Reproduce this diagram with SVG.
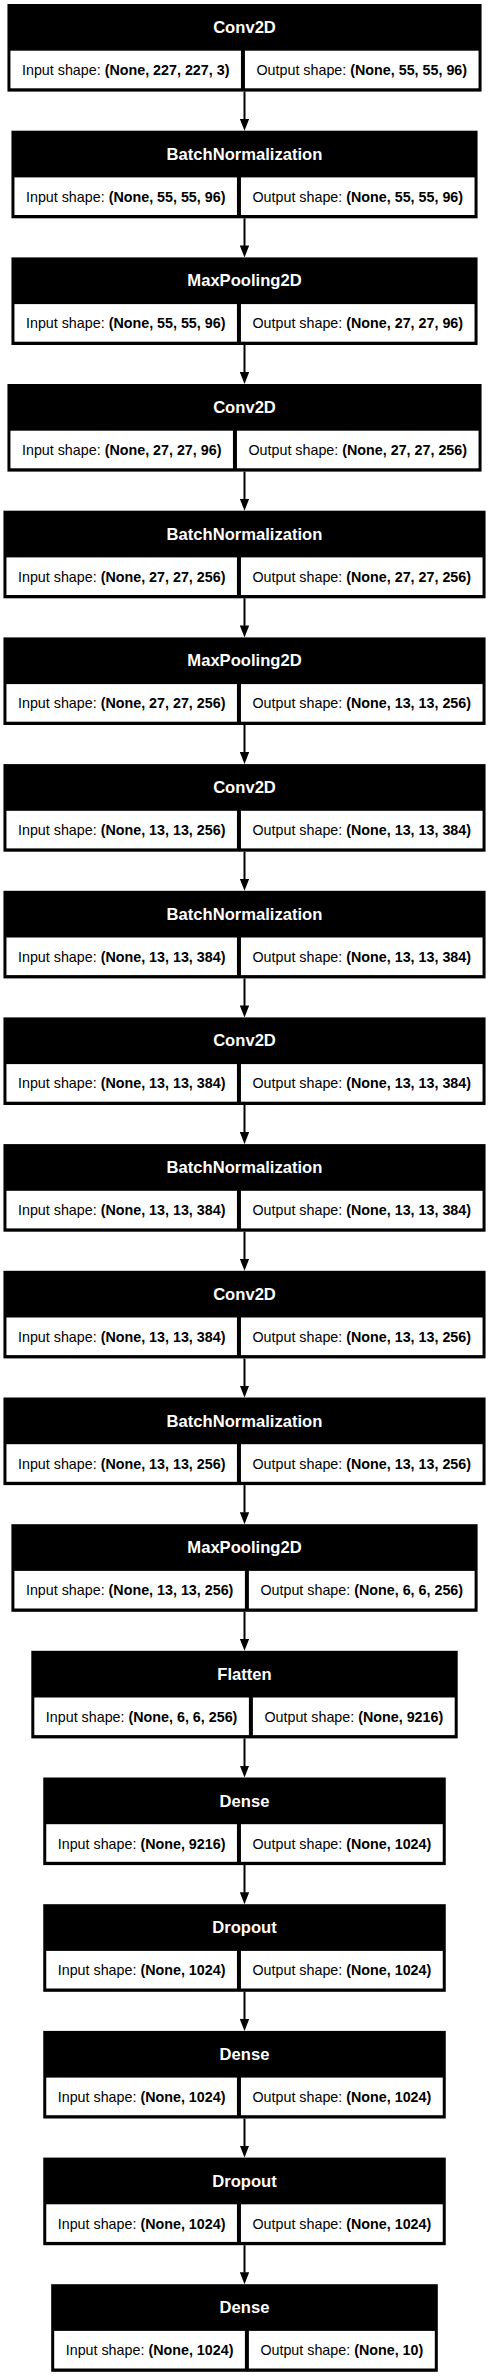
<svg xmlns="http://www.w3.org/2000/svg" width="489" height="2377" viewBox="0 0 489 2377">
<style>
.bg{fill:#fff}
.box{fill:#000}
.cell{fill:#fff}
.hd{font-family:"Liberation Sans",Arial,sans-serif;font-size:16.6px;font-weight:bold;fill:#fff;text-anchor:middle}
.tx{font-family:"Liberation Sans",Arial,sans-serif;font-size:14.3px;fill:#000;text-anchor:middle}
.b{font-weight:bold}
.edge{stroke:#000;stroke-width:2;fill:none}
</style>
<defs>
<marker id="ah" markerUnits="userSpaceOnUse" viewBox="0 0 12 9.4" markerWidth="12" markerHeight="9.4" refX="0.5" refY="4.7" orient="auto">
<path d="M0,0 L12,4.7 L0,9.4 z" fill="#000"/>
</marker>
</defs>
<rect class="bg" x="0" y="0" width="489" height="2377"/>
<g id="connectors">
<line class="edge" marker-end="url(#ah)" x1="244.5" y1="91.6" x2="244.5" y2="119.2"/>
<line class="edge" marker-end="url(#ah)" x1="244.5" y1="218.3" x2="244.5" y2="245.9"/>
<line class="edge" marker-end="url(#ah)" x1="244.5" y1="345.0" x2="244.5" y2="372.5"/>
<line class="edge" marker-end="url(#ah)" x1="244.5" y1="471.6" x2="244.5" y2="499.2"/>
<line class="edge" marker-end="url(#ah)" x1="244.5" y1="598.3" x2="244.5" y2="625.9"/>
<line class="edge" marker-end="url(#ah)" x1="244.5" y1="725.0" x2="244.5" y2="752.6"/>
<line class="edge" marker-end="url(#ah)" x1="244.5" y1="851.7" x2="244.5" y2="879.3"/>
<line class="edge" marker-end="url(#ah)" x1="244.5" y1="978.4" x2="244.5" y2="1005.9"/>
<line class="edge" marker-end="url(#ah)" x1="244.5" y1="1105.0" x2="244.5" y2="1132.6"/>
<line class="edge" marker-end="url(#ah)" x1="244.5" y1="1231.7" x2="244.5" y2="1259.3"/>
<line class="edge" marker-end="url(#ah)" x1="244.5" y1="1358.4" x2="244.5" y2="1386.0"/>
<line class="edge" marker-end="url(#ah)" x1="244.5" y1="1485.1" x2="244.5" y2="1512.7"/>
<line class="edge" marker-end="url(#ah)" x1="244.5" y1="1611.8" x2="244.5" y2="1639.3"/>
<line class="edge" marker-end="url(#ah)" x1="244.5" y1="1738.4" x2="244.5" y2="1766.0"/>
<line class="edge" marker-end="url(#ah)" x1="244.5" y1="1865.1" x2="244.5" y2="1892.7"/>
<line class="edge" marker-end="url(#ah)" x1="244.5" y1="1991.8" x2="244.5" y2="2019.4"/>
<line class="edge" marker-end="url(#ah)" x1="244.5" y1="2118.5" x2="244.5" y2="2146.1"/>
<line class="edge" marker-end="url(#ah)" x1="244.5" y1="2245.2" x2="244.5" y2="2272.7"/>
</g>
<g id="n1" transform="translate(0,4)">
<rect class="box" x="7.45" y="0" width="474.1" height="87.6"/>
<rect class="cell" x="10.45" y="46.7" width="230.5" height="37.6"/>
<rect class="cell" x="244.95" y="46.7" width="233.6" height="37.6"/>
<text class="hd" x="244.5" y="29">Conv2D</text>
<text class="tx" x="125.7" y="71">Input shape: <tspan class="b">(None, 227, 227, 3)</tspan></text>
<text class="tx" x="361.75" y="71">Output shape: <tspan class="b">(None, 55, 55, 96)</tspan></text>
</g>
<g id="n2" transform="translate(0,130.7)">
<rect class="box" x="11.45" y="0" width="466.1" height="87.6"/>
<rect class="cell" x="14.45" y="46.7" width="222.5" height="37.6"/>
<rect class="cell" x="240.95" y="46.7" width="233.6" height="37.6"/>
<text class="hd" x="244.5" y="29">BatchNormalization</text>
<text class="tx" x="125.7" y="71">Input shape: <tspan class="b">(None, 55, 55, 96)</tspan></text>
<text class="tx" x="357.75" y="71">Output shape: <tspan class="b">(None, 55, 55, 96)</tspan></text>
</g>
<g id="n3" transform="translate(0,257.4)">
<rect class="box" x="11.45" y="0" width="466.1" height="87.6"/>
<rect class="cell" x="14.45" y="46.7" width="222.5" height="37.6"/>
<rect class="cell" x="240.95" y="46.7" width="233.6" height="37.6"/>
<text class="hd" x="244.5" y="29">MaxPooling2D</text>
<text class="tx" x="125.7" y="71">Input shape: <tspan class="b">(None, 55, 55, 96)</tspan></text>
<text class="tx" x="357.75" y="71">Output shape: <tspan class="b">(None, 27, 27, 96)</tspan></text>
</g>
<g id="n4" transform="translate(0,384.0)">
<rect class="box" x="7.45" y="0" width="474.1" height="87.6"/>
<rect class="cell" x="10.45" y="46.7" width="222.5" height="37.6"/>
<rect class="cell" x="236.95" y="46.7" width="241.6" height="37.6"/>
<text class="hd" x="244.5" y="29">Conv2D</text>
<text class="tx" x="121.7" y="71">Input shape: <tspan class="b">(None, 27, 27, 96)</tspan></text>
<text class="tx" x="357.75" y="71">Output shape: <tspan class="b">(None, 27, 27, 256)</tspan></text>
</g>
<g id="n5" transform="translate(0,510.7)">
<rect class="box" x="3.45" y="0" width="482.1" height="87.6"/>
<rect class="cell" x="6.45" y="46.7" width="230.5" height="37.6"/>
<rect class="cell" x="240.95" y="46.7" width="241.6" height="37.6"/>
<text class="hd" x="244.5" y="29">BatchNormalization</text>
<text class="tx" x="121.7" y="71">Input shape: <tspan class="b">(None, 27, 27, 256)</tspan></text>
<text class="tx" x="361.75" y="71">Output shape: <tspan class="b">(None, 27, 27, 256)</tspan></text>
</g>
<g id="n6" transform="translate(0,637.4)">
<rect class="box" x="3.45" y="0" width="482.1" height="87.6"/>
<rect class="cell" x="6.45" y="46.7" width="230.5" height="37.6"/>
<rect class="cell" x="240.95" y="46.7" width="241.6" height="37.6"/>
<text class="hd" x="244.5" y="29">MaxPooling2D</text>
<text class="tx" x="121.7" y="71">Input shape: <tspan class="b">(None, 27, 27, 256)</tspan></text>
<text class="tx" x="361.75" y="71">Output shape: <tspan class="b">(None, 13, 13, 256)</tspan></text>
</g>
<g id="n7" transform="translate(0,764.1)">
<rect class="box" x="3.45" y="0" width="482.1" height="87.6"/>
<rect class="cell" x="6.45" y="46.7" width="230.5" height="37.6"/>
<rect class="cell" x="240.95" y="46.7" width="241.6" height="37.6"/>
<text class="hd" x="244.5" y="29">Conv2D</text>
<text class="tx" x="121.7" y="71">Input shape: <tspan class="b">(None, 13, 13, 256)</tspan></text>
<text class="tx" x="361.75" y="71">Output shape: <tspan class="b">(None, 13, 13, 384)</tspan></text>
</g>
<g id="n8" transform="translate(0,890.8)">
<rect class="box" x="3.45" y="0" width="482.1" height="87.6"/>
<rect class="cell" x="6.45" y="46.7" width="230.5" height="37.6"/>
<rect class="cell" x="240.95" y="46.7" width="241.6" height="37.6"/>
<text class="hd" x="244.5" y="29">BatchNormalization</text>
<text class="tx" x="121.7" y="71">Input shape: <tspan class="b">(None, 13, 13, 384)</tspan></text>
<text class="tx" x="361.75" y="71">Output shape: <tspan class="b">(None, 13, 13, 384)</tspan></text>
</g>
<g id="n9" transform="translate(0,1017.4)">
<rect class="box" x="3.45" y="0" width="482.1" height="87.6"/>
<rect class="cell" x="6.45" y="46.7" width="230.5" height="37.6"/>
<rect class="cell" x="240.95" y="46.7" width="241.6" height="37.6"/>
<text class="hd" x="244.5" y="29">Conv2D</text>
<text class="tx" x="121.7" y="71">Input shape: <tspan class="b">(None, 13, 13, 384)</tspan></text>
<text class="tx" x="361.75" y="71">Output shape: <tspan class="b">(None, 13, 13, 384)</tspan></text>
</g>
<g id="n10" transform="translate(0,1144.1)">
<rect class="box" x="3.45" y="0" width="482.1" height="87.6"/>
<rect class="cell" x="6.45" y="46.7" width="230.5" height="37.6"/>
<rect class="cell" x="240.95" y="46.7" width="241.6" height="37.6"/>
<text class="hd" x="244.5" y="29">BatchNormalization</text>
<text class="tx" x="121.7" y="71">Input shape: <tspan class="b">(None, 13, 13, 384)</tspan></text>
<text class="tx" x="361.75" y="71">Output shape: <tspan class="b">(None, 13, 13, 384)</tspan></text>
</g>
<g id="n11" transform="translate(0,1270.8)">
<rect class="box" x="3.45" y="0" width="482.1" height="87.6"/>
<rect class="cell" x="6.45" y="46.7" width="230.5" height="37.6"/>
<rect class="cell" x="240.95" y="46.7" width="241.6" height="37.6"/>
<text class="hd" x="244.5" y="29">Conv2D</text>
<text class="tx" x="121.7" y="71">Input shape: <tspan class="b">(None, 13, 13, 384)</tspan></text>
<text class="tx" x="361.75" y="71">Output shape: <tspan class="b">(None, 13, 13, 256)</tspan></text>
</g>
<g id="n12" transform="translate(0,1397.5)">
<rect class="box" x="3.45" y="0" width="482.1" height="87.6"/>
<rect class="cell" x="6.45" y="46.7" width="230.5" height="37.6"/>
<rect class="cell" x="240.95" y="46.7" width="241.6" height="37.6"/>
<text class="hd" x="244.5" y="29">BatchNormalization</text>
<text class="tx" x="121.7" y="71">Input shape: <tspan class="b">(None, 13, 13, 256)</tspan></text>
<text class="tx" x="361.75" y="71">Output shape: <tspan class="b">(None, 13, 13, 256)</tspan></text>
</g>
<g id="n13" transform="translate(0,1524.2)">
<rect class="box" x="11.4" y="0" width="466.2" height="87.6"/>
<rect class="cell" x="14.4" y="46.7" width="230.5" height="37.6"/>
<rect class="cell" x="248.9" y="46.7" width="225.7" height="37.6"/>
<text class="hd" x="244.5" y="29">MaxPooling2D</text>
<text class="tx" x="129.65" y="71">Input shape: <tspan class="b">(None, 13, 13, 256)</tspan></text>
<text class="tx" x="361.75" y="71">Output shape: <tspan class="b">(None, 6, 6, 256)</tspan></text>
</g>
<g id="n14" transform="translate(0,1650.8)">
<rect class="box" x="31.3" y="0" width="426.4" height="87.6"/>
<rect class="cell" x="34.3" y="46.7" width="214.6" height="37.6"/>
<rect class="cell" x="252.9" y="46.7" width="201.8" height="37.6"/>
<text class="hd" x="244.5" y="29">Flatten</text>
<text class="tx" x="141.6" y="71">Input shape: <tspan class="b">(None, 6, 6, 256)</tspan></text>
<text class="tx" x="353.8" y="71">Output shape: <tspan class="b">(None, 9216)</tspan></text>
</g>
<g id="n15" transform="translate(0,1777.5)">
<rect class="box" x="43.25" y="0" width="402.5" height="87.6"/>
<rect class="cell" x="46.25" y="46.7" width="190.7" height="37.6"/>
<rect class="cell" x="240.95" y="46.7" width="201.8" height="37.6"/>
<text class="hd" x="244.5" y="29">Dense</text>
<text class="tx" x="141.6" y="71">Input shape: <tspan class="b">(None, 9216)</tspan></text>
<text class="tx" x="341.85" y="71">Output shape: <tspan class="b">(None, 1024)</tspan></text>
</g>
<g id="n16" transform="translate(0,1904.2)">
<rect class="box" x="43.25" y="0" width="402.5" height="87.6"/>
<rect class="cell" x="46.25" y="46.7" width="190.7" height="37.6"/>
<rect class="cell" x="240.95" y="46.7" width="201.8" height="37.6"/>
<text class="hd" x="244.5" y="29">Dropout</text>
<text class="tx" x="141.6" y="71">Input shape: <tspan class="b">(None, 1024)</tspan></text>
<text class="tx" x="341.85" y="71">Output shape: <tspan class="b">(None, 1024)</tspan></text>
</g>
<g id="n17" transform="translate(0,2030.9)">
<rect class="box" x="43.25" y="0" width="402.5" height="87.6"/>
<rect class="cell" x="46.25" y="46.7" width="190.7" height="37.6"/>
<rect class="cell" x="240.95" y="46.7" width="201.8" height="37.6"/>
<text class="hd" x="244.5" y="29">Dense</text>
<text class="tx" x="141.6" y="71">Input shape: <tspan class="b">(None, 1024)</tspan></text>
<text class="tx" x="341.85" y="71">Output shape: <tspan class="b">(None, 1024)</tspan></text>
</g>
<g id="n18" transform="translate(0,2157.6)">
<rect class="box" x="43.25" y="0" width="402.5" height="87.6"/>
<rect class="cell" x="46.25" y="46.7" width="190.7" height="37.6"/>
<rect class="cell" x="240.95" y="46.7" width="201.8" height="37.6"/>
<text class="hd" x="244.5" y="29">Dropout</text>
<text class="tx" x="141.6" y="71">Input shape: <tspan class="b">(None, 1024)</tspan></text>
<text class="tx" x="341.85" y="71">Output shape: <tspan class="b">(None, 1024)</tspan></text>
</g>
<g id="n19" transform="translate(0,2284.2)">
<rect class="box" x="51.2" y="0" width="386.6" height="87.6"/>
<rect class="cell" x="54.2" y="46.7" width="190.7" height="37.6"/>
<rect class="cell" x="248.9" y="46.7" width="185.9" height="37.6"/>
<text class="hd" x="244.5" y="29">Dense</text>
<text class="tx" x="149.55" y="71">Input shape: <tspan class="b">(None, 1024)</tspan></text>
<text class="tx" x="341.85" y="71">Output shape: <tspan class="b">(None, 10)</tspan></text>
</g>
</svg>
